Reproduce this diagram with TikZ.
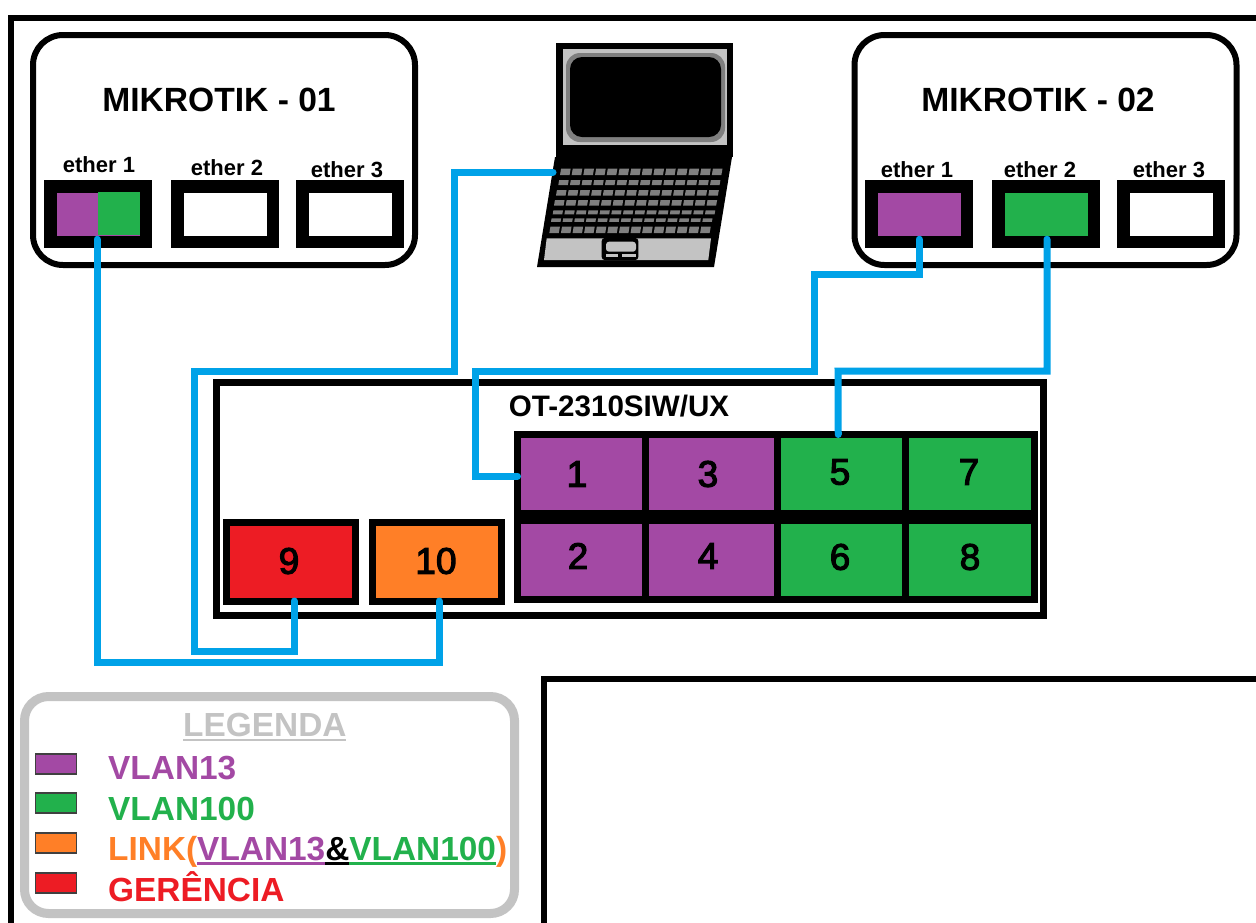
\documentclass[tikz,border=0pt]{standalone}
\usepackage{fontspec}
\usepackage{xcolor}
\setmainfont{Liberation Sans}
\newfontfamily\numfont[FakeBold=3]{Liberation Sans}
\usetikzlibrary{arrows.meta, calc, positioning}

\definecolor{vlanpurple}{HTML}{A349A4}
\definecolor{vlangreen}{HTML}{22B14C}
\definecolor{linkorange}{HTML}{FF7F27}
\definecolor{mgmtred}{HTML}{ED1C24}
\definecolor{cablecyan}{HTML}{00A2E8}
\definecolor{lightgrey}{HTML}{C3C3C3}
\definecolor{midgrey}{HTML}{7F7F7F}

% text with a rule of its own colour below it
\newcommand{\ruled}[2]{\setbox0=\hbox{#2}\rlap{\rule[-4.5pt]{\wd0}{#1}}\box0}

\begin{document}
\begin{tikzpicture}[x=1pt, y=-1pt,
    routerbox/.style={draw=black, line width=6pt, rounded corners=30pt, inner sep=0pt,
      minimum width=382pt, minimum height=230pt},
    etherport/.style={draw=black, line width=12.5pt, inner sep=0pt, outer sep=-2.5pt,
      minimum width=95.5pt, minimum height=55.5pt},
    swport/.style={draw=black, line width=7pt, inner sep=0pt, outer sep=0pt,
      minimum height=79pt},
    swatch/.style={draw=black!75, line width=1.5pt, inner sep=0pt,
      minimum width=41pt, minimum height=20pt},
    titlelabel/.style={font=\fontsize{33.6}{36}\selectfont\bfseries, inner sep=0pt},
    etherlabel/.style={font=\fontsize{22}{24}\selectfont\bfseries, inner sep=0pt},
    numlabel/.style={font=\fontsize{37}{40}\selectfont\numfont, inner sep=0pt},
    legendlabel/.style={font=\fontsize{33.4}{36}\selectfont\bfseries, inner sep=0pt, anchor=base west},
    cable/.style={draw=cablecyan, line width=7pt, line cap=round, line join=miter}]
  \useasboundingbox (0,0) rectangle (1256,922);

  % Page frames
  \draw[line width=6pt] (11,930) -- (11,18) -- (1264,18);
  \draw[line width=6pt] (544,930) -- (544,679) -- (1264,679);

  % Mikrotik 01
  \node[routerbox] (mikrotikA) at (224,150) {};
  \node[titlelabel] (mikrotikAtitle) at (219,100) {MIKROTIK - 01};
  \node[etherport, fill=vlanpurple] (mkAeth1) at (98,214) {};
  \fill[vlangreen] (97.5,192) rectangle (140,235);
  \node[etherport] (mkAeth2) at (225,214) {};
  \node[etherport] (mkAeth3) at (350,214) {};
  \node[etherlabel] (mkAlab1) at (99,165) {ether 1};
  \node[etherlabel] (mkAlab2) at (227,168) {ether 2};
  \node[etherlabel] (mkAlab3) at (347,170) {ether 3};

  % Mikrotik 02
  \node[routerbox] (mikrotikB) at (1045.5,150) {};
  \node[titlelabel] (mikrotikBtitle) at (1038,100) {MIKROTIK - 02};
  \node[etherport, fill=vlanpurple] (mkBeth1) at (919,214) {};
  \node[etherport, fill=vlangreen] (mkBeth2) at (1046,214) {};
  \node[etherport] (mkBeth3) at (1171,214) {};
  \node[etherlabel] (mkBlab1) at (917,170) {ether 1};
  \node[etherlabel] (mkBlab2) at (1040,170) {ether 2};
  \node[etherlabel] (mkBlab3) at (1169,170) {ether 3};

  % Laptop
  \fill[black] (556,43) rectangle (733,157);
  \fill[lightgrey] (563,49) rectangle (727,145);
  \fill[midgrey, rounded corners=14pt] (566,53) rectangle (725,142);
  \fill[black, rounded corners=12pt] (570,57) rectangle (721,137);
  \fill[black] (555,157) -- (732,157) -- (714,267) -- (537,267) -- cycle;
  \foreach \ky/\kh/\kl/\kr in {168.5/6.5/560/723.5, 180/5/558.3/721.7, 190/5.5/556/720,
      200/5.5/554/718.3, 210.3/4/552.7/716.7, 218.3/3.5/551/714, 226.7/6.5/549.3/711.7} {
    \foreach \kn in {0,...,13} {
      \pgfmathsetmacro{\ka}{\kl+\kn*(\kr-\kl)/14}
      \pgfmathsetmacro{\kb}{\ka+0.82*(\kr-\kl)/14}
      \fill[midgrey] (\ka,\ky+\kh) -- (\kb,\ky+\kh) -- (\kb+0.17*\kh,\ky) -- (\ka+0.17*\kh,\ky) -- cycle;
    }
  }
  \fill[lightgrey] (546.7,238.3) -- (711,238.3) -- (708.3,260) -- (544,260) -- cycle;
  \fill[black, rounded corners=3pt] (601.7,238) rectangle (638.3,260);
  \fill[lightgrey, rounded corners=3pt] (606,241.7) rectangle (636,251.7);
  \fill[lightgrey] (606,254) rectangle (618,256.7);
  \fill[lightgrey] (622,254) rectangle (636,256.7);
  \coordinate (laptopport) at (553,172);

  % Switch
  \node[draw=black, line width=7pt, inner sep=0pt, minimum width=827pt, minimum height=233pt] (switch) at (630,499) {};
  \node[font=\fontsize{29.6}{32}\selectfont\bfseries, inner sep=0pt] (switchtitle) at (619,406) {OT-2310SIW/UX};
  \foreach \pnum/\px/\py/\pw/\pcol/\tx/\ty in {
      1/581.5/474/128/vlanpurple/577/474, 3/711.5/474/132/vlanpurple/708/474,
      5/841.25/474/127.5/vlangreen/840/472, 7/969.5/474/129/vlangreen/969/472,
      2/581.5/560/128/vlanpurple/578/556, 4/711.5/560/132/vlanpurple/708/556,
      6/841.25/560/127.5/vlangreen/840/557, 8/969.5/560/129/vlangreen/970/557} {
    \node[swport, fill=\pcol, minimum width=\pw pt] (port\pnum) at (\px,\py) {};
    \node[numlabel] (lab\pnum) at (\tx,\ty) {\pnum};
  }
  \node[swport, fill=mgmtred, minimum width=129pt] (port9) at (291,561.5) {};
  \node[swport, fill=linkorange, minimum width=129pt] (port10) at (437,561.5) {};
  \node[numlabel] (lab9) at (289,561) {9};
  \node[numlabel] (lab10) at (436,561) {10};

  % Cables
  \draw[cable] (mkAeth1.south) ++(-1,0) -- ++(0,423) -| ($(port10.south)+(2,0)$);
  \draw[cable] ($(port9.south)+(3,0)$) -- ++(0,50) -| (194,371) -| (454,172) -- (laptopport);
  \draw[cable] (mkBeth1.south) -- ++(0,35) -| (814,371) -| (475,476) -- ($(port1.west)+(0,2)$);
  \draw[cable] ($(mkBeth2.south)+(1,0)$) |- (838,371) -- ($(port5.north)+(-3,0)$);

  % Legend
  \node[draw=lightgrey, line width=9pt, rounded corners=24pt, inner sep=0pt,
    minimum width=490pt, minimum height=217pt] (legend) at (269.5,805) {};
  \node[legendlabel, text=lightgrey] (legendtitle) at (183,736) {\ruled{1.5pt}{LEGENDA}};
  \node[swatch, fill=vlanpurple] (swatchA) at (56,764) {};
  \node[swatch, fill=vlangreen] (swatchB) at (56,803) {};
  \node[swatch, fill=linkorange] (swatchC) at (56,843) {};
  \node[swatch, fill=mgmtred] (swatchD) at (56,883) {};
  \node[legendlabel, text=vlanpurple] (legendA) at (108,779) {VLAN13};
  \node[legendlabel, text=vlangreen] (legendB) at (108,820) {VLAN100};
  \node[legendlabel, text=linkorange] (legendC) at (108,860) {LINK(\textcolor{vlanpurple}{\ruled{3pt}{VLAN13}}\textcolor{black}{\ruled{3pt}{\&}}\textcolor{vlangreen}{\ruled{3pt}{VLAN100}})};
  \node[legendlabel, text=mgmtred] (legendD) at (108,901) {GERÊNCIA};
\end{tikzpicture}
\end{document}
